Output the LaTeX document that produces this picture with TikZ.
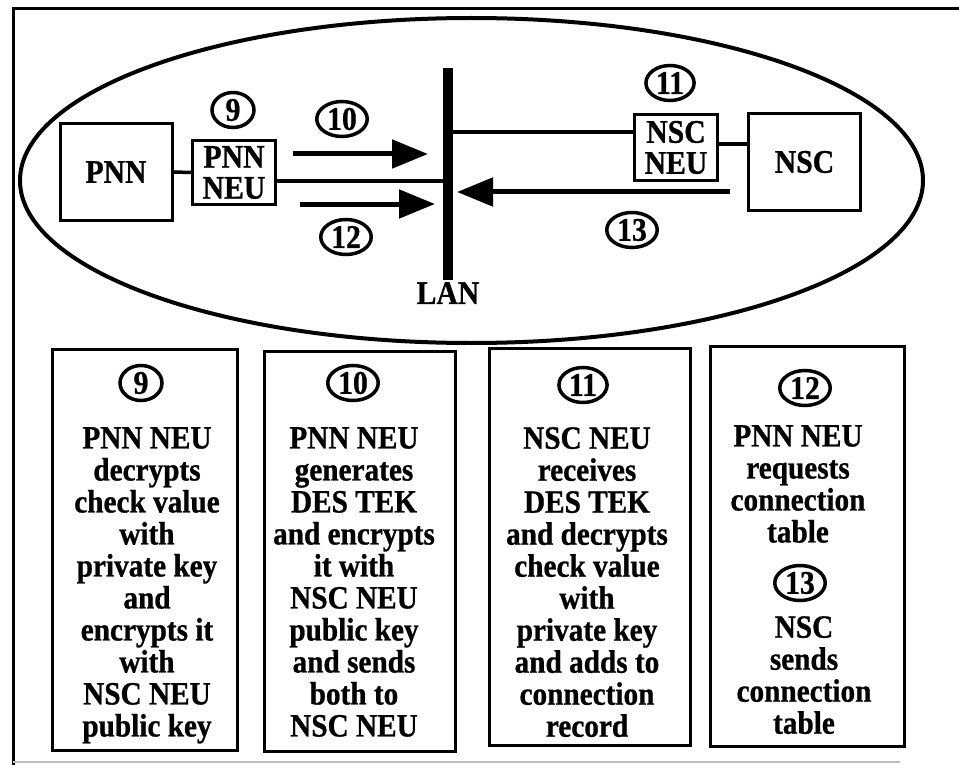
\documentclass[tikz,border=0pt]{standalone}
\usepackage{fontspec}
\setmainfont{Liberation Serif}[FakeStretch=0.9,BoldFeatures={FakeBold=0.8}]
\usetikzlibrary{arrows.meta,shapes}
\tikzset{unit/.style={draw,line width=3pt,inner sep=0pt,align=center,font=\bfseries\fontsize{33}{31}\selectfont}}
\tikzset{num/.style={draw,ellipse,line width=3.5pt,inner xsep=3pt,inner ysep=0pt,minimum width=42pt,minimum height=35pt,font=\bfseries\fontsize{33}{33}\selectfont}}
\tikzset{panel/.style={draw,line width=3pt,inner sep=0pt}}
\tikzset{steps/.style={anchor=north,inner sep=0pt,align=center,font=\bfseries\fontsize{32.5}{32}\selectfont}}
\tikzset{bigarrow/.style={line width=5pt,-{Triangle[length=36pt,width=28pt]}}}
\tikzset{wire/.style={line width=3.5pt}}

\begin{document}
\begin{tikzpicture}[x=1pt,y=-1pt]
    \useasboundingbox (0,0) rectangle (959,765);
    \draw [line width=3pt] (13,775) -- (13,9) -- (975,9);
    \draw [line width=1.5pt,gray!50] (13,762) -- (900,762);
    \draw [line width=4pt] (471.5,180.5) ellipse [x radius=451.5,y radius=162.5];

    \node [unit,minimum width=112pt,minimum height=97pt] (pnn) at (116,172) {PNN};
    \node [unit,minimum width=83pt,minimum height=64pt] (pnnneu) at (234,172.5) {PNN\\NEU};
    \node [unit,minimum width=83pt,minimum height=66pt] (nscneu) at (676,147.5) {NSC\\NEU};
    \node [unit,minimum width=112pt,minimum height=97pt] (nsc) at (804.5,162) {NSC};
    \coordinate (lant) at (448,68);
    \coordinate (lanb) at (448,280);
    \draw [line width=10pt] (lant) -- (lanb);
    \node [anchor=north,inner sep=2pt,font=\bfseries\fontsize{33}{33}\selectfont] (lan) at (lanb) {LAN};

    \draw [wire] (pnn.east) -- (pnnneu.west);
    \draw [wire] (pnnneu.east |- 0,181) -- (lant |- 0,181);
    \draw [wire] (lant |- 0,132) -- (nscneu.west |- 0,132);
    \draw [wire] (nscneu.east |- 0,144) -- (nsc.west |- 0,144);

    \coordinate (s10) at (293,154);
    \coordinate (s12) at (300,204);
    \coordinate (s13) at (730,192);
    \draw [bigarrow,shorten >=20pt] (s10) -- (s10 -| lant);
    \draw [bigarrow,shorten >=13pt] (s12) -- (s12 -| lant);
    \draw [bigarrow,shorten >=9pt] (s13) -- (s13 -| lant);

    \node [num] (c9) at (233,110) {9};
    \node [num] (c10) at (342,119) {10};
    \node [num] (c11) at (670,83) {11};
    \node [num] (c12) at (346,237) {12};
    \node [num] (c13) at (632,230) {13};

    \node [panel,minimum width=185pt,minimum height=401pt] (p9) at (145,550) {};
    \node [panel,minimum width=191pt,minimum height=400pt] (p10) at (360,551.5) {};
    \node [panel,minimum width=201pt,minimum height=397pt] (p11) at (590,547) {};
    \node [panel,minimum width=194pt,minimum height=400pt] (p12) at (807.5,546.5) {};

    \node [num] (d9) at (141,383) {9};
    \node [num] (d10) at (353,383) {10};
    \node [num] (d11) at (583,385) {11};
    \node [num] (d12) at (805,388) {12};
    \node [num] (d13) at (800,583) {13};

    \node [steps] (t9) at (147,427) {PNN NEU\\decrypts\\check value\\with\\private key\\and\\encrypts it\\with\\NSC NEU\\public key};
    \node [steps] (t10) at (354,427) {PNN NEU\\generates\\DES TEK\\and encrypts\\it with\\NSC NEU\\public key\\and sends\\both to\\NSC NEU};
    \node [steps] (t11) at (587,427) {NSC NEU\\receives\\DES TEK\\and decrypts\\check value\\with\\private key\\and adds to\\connection\\record};
    \node [steps] (t12) at (798,425) {PNN NEU\\requests\\connection\\table};
    \node [steps] (t13) at (804,616) {NSC\\sends\\connection\\table};
\end{tikzpicture}
\end{document}
